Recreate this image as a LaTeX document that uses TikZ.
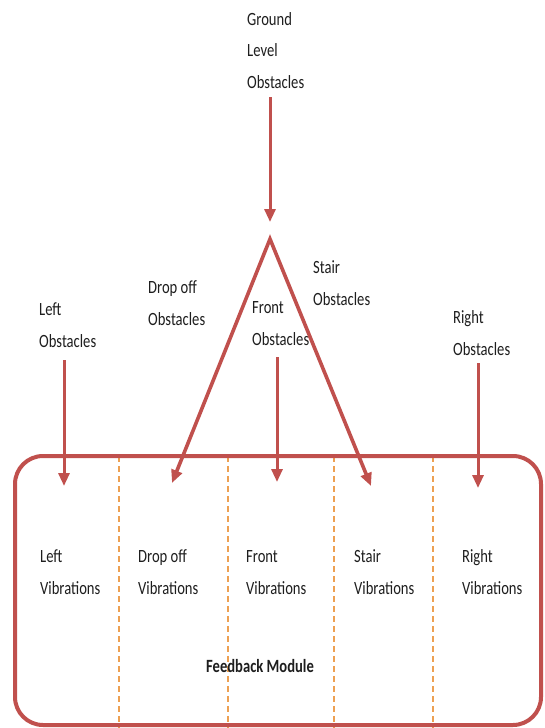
\documentclass[tikz,border=0pt]{standalone}
\usepackage{fontspec}
\usepackage{graphicx}
\setmainfont{Carlito}
\usetikzlibrary{arrows.meta}
\definecolor{fbred}{HTML}{C0504D}
\definecolor{dashor}{HTML}{EDA052}
\definecolor{txt}{HTML}{1E1E1E}
\newcommand{\tallstack}[2][25]{\scalebox{1}[1.28]{\fontsize{14.6}{#1}\selectfont\begin{tabular}[b]{@{}l@{}}#2\end{tabular}}}
\begin{document}
\begin{tikzpicture}[x=1pt,y=-1pt,
  lbl/.style={anchor=base west, inner sep=0pt, text=txt},
  arr/.style={draw=fbred, line width=3pt, -{Triangle[length=13pt,width=11pt]}},
  tri/.style={draw=fbred, line width=3.6pt, line join=miter, {Triangle[length=13pt,width=11pt]}-{Triangle[length=13pt,width=11pt]}},
  sep/.style={draw=dashor, line width=1.2pt, dash pattern=on 6pt off 4pt},
  boxline/.style={draw=fbred, line width=4pt, rounded corners=28pt}]
\useasboundingbox (0,0) rectangle (544,728);

% dashed separators
\foreach \x/\n in {119/a,228/b,334/c,433/d}{
  \coordinate (st\n) at (\x,456);
  \coordinate (sb\n) at (\x,728);
  \draw[sep] (st\n) -- (sb\n);
}

% feedback module box
\draw[boxline] (15,456) rectangle (541,725);

% labels (anchor = baseline of the last line)
\node[lbl] (gLbl) at (247,88) {\tallstack[24.4]{Ground\\Level\\Obstacles}};
\node[lbl] (leftLbl) at (39,347) {\tallstack{Left\\Obstacles}};
\node[lbl] (dropLbl) at (148,325) {\tallstack{Drop off\\Obstacles}};
\node[lbl] (frontLbl) at (252,345) {\tallstack{Front\\Obstacles}};
\node[lbl] (stairLbl) at (313,305) {\tallstack{Stair\\Obstacles}};
\node[lbl] (rightLbl) at (453,355) {\tallstack{Right\\Obstacles}};

\node[lbl] (leftVib) at (40,594) {\tallstack{Left\\Vibrations}};
\node[lbl] (dropVib) at (138,594) {\tallstack{Drop off\\Vibrations}};
\node[lbl] (frontVib) at (246,594) {\tallstack{Front\\Vibrations}};
\node[lbl] (stairVib) at (354,594) {\tallstack{Stair\\Vibrations}};
\node[lbl] (rightVib) at (462,594) {\tallstack{Right\\Vibrations}};
\node[lbl] (fbLbl) at (206,672) {\tallstack{\bfseries Feedback Module}};

% connector points
\coordinate (gS) at (270,97);
\coordinate (gT) at (270,222);
\coordinate (apex) at (270,239);
\coordinate (dropT) at (172,483);
\coordinate (stairT) at (371,486);
\coordinate (leftS) at (64,360);
\coordinate (leftT) at (64,486);
\coordinate (frontS) at (277,357);
\coordinate (frontT) at (277,482);
\coordinate (rightS) at (478,363);
\coordinate (rightT) at (478,488);

\draw[arr] (gS) -- (gT);
\draw[tri] (dropT) -- (apex) -- (stairT);
\draw[arr] (leftS) -- (leftT);
\draw[arr] (frontS) -- (frontT);
\draw[arr] (rightS) -- (rightT);
\end{tikzpicture}
\end{document}
